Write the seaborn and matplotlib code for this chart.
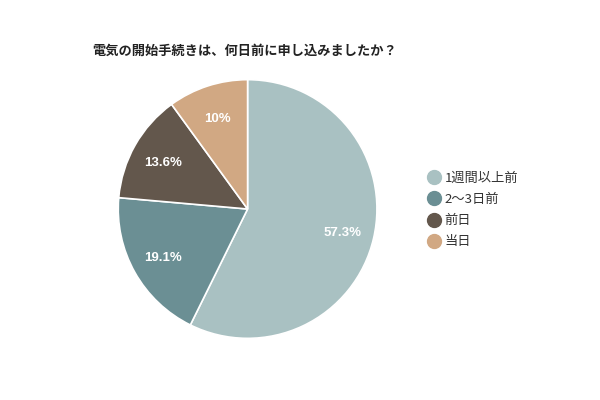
import matplotlib
matplotlib.use("Agg")
import matplotlib.pyplot as plt
from matplotlib.lines import Line2D
import numpy as np
import seaborn as sns

# データ
categories = ['1週間以上前', '2〜3日前', '前日', '当日']
values = [57.3, 19.1, 13.6, 10.0]
pct_labels = ['57.3%', '19.1%', '13.6%', '10%']
colors = ['#a9c1c2', '#6b8f94', '#63574c', '#d1a883']

sns.set_theme(style="white")
plt.rcParams['font.family'] = ['Noto Sans CJK JP', 'DejaVu Sans']

fig = plt.figure(figsize=(6, 4), dpi=100)
fig.patch.set_facecolor('white')
ax = fig.add_axes([0.196, 0.1525, 0.4333, 0.65])

palette = sns.color_palette(colors)
wedges, _ = ax.pie(values, colors=palette, startangle=90, counterclock=False,
                   wedgeprops={'edgecolor': 'white', 'linewidth': 1.2})
ax.set_xlim(-1.005, 1.005)
ax.set_ylim(-1.005, 1.005)
ax.set_aspect('equal')

# ラベル
total = sum(values)
ang = 90.0
for v, lab in zip(values, pct_labels):
    span = v / total * 360
    mid = np.deg2rad(ang - span / 2)
    ax.text(0.75 * np.cos(mid), 0.75 * np.sin(mid) - 0.015, lab, ha='center', va='center',
            color='white', fontsize=9.5, fontweight='bold', family=['Liberation Sans', 'DejaVu Sans'])
    ang -= span

fig.text(0.153, 0.872, '電気の開始手続きは、何日前に申し込みましたか？',
         fontsize=9.5, fontweight='bold', color='#222222', ha='left', va='center')

handles = [Line2D([0], [0], marker='o', linestyle='', markersize=10,
                  markerfacecolor=c, markeredgecolor=c) for c in colors]
fig.legend(handles, categories, loc='upper left', bbox_to_anchor=(0.69, 0.6),
           frameon=False, fontsize=9.5, labelspacing=0.62, handletextpad=0.2,
           handlelength=1.2, labelcolor='#333333')

fig.savefig('out.png', dpi=100)
